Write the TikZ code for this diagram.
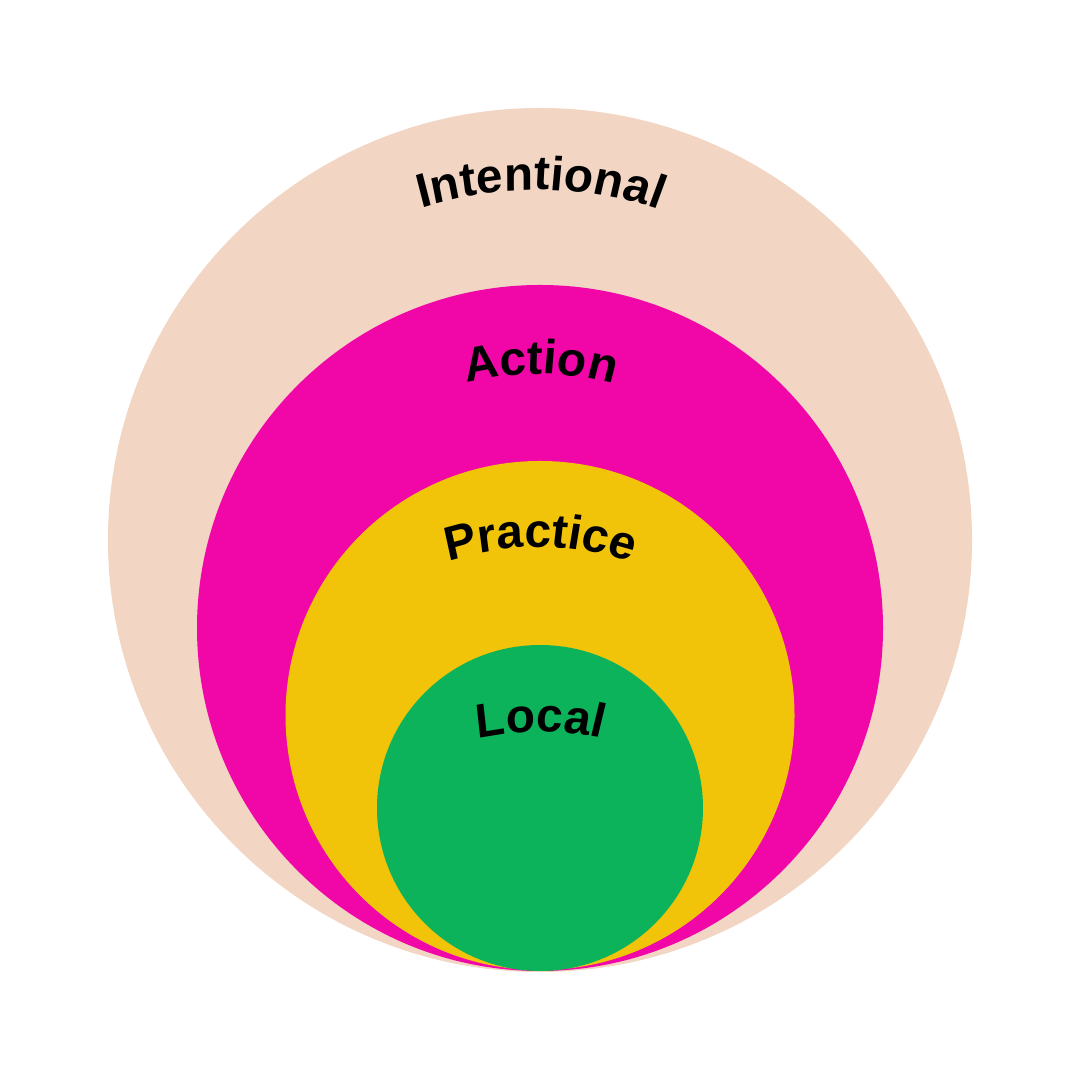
\documentclass[tikz,border=0pt]{standalone}
\usepackage{fontspec}
\setmainfont{Liberation Sans}
\newfontfamily\lblfont[FakeSlant=0.05]{Liberation Sans Bold}
\usetikzlibrary{decorations.text}
\definecolor{peach}{HTML}{F2D5C2}
\definecolor{magentab}{HTML}{F106A8}
\definecolor{yellowb}{HTML}{F1C40A}
\definecolor{greenb}{HTML}{0DB35A}
\tikzset{
  ring/.style={draw=none},
  arclabel/.style={decorate, decoration={text along path, text align=center,
     text={|\lblfont\fontsize{13.6}{14}\selectfont|#1}}}
}
\begin{document}
\begin{tikzpicture}
\useasboundingbox (0,0) rectangle (10.8,10.8);
\fill[white] (0,0) rectangle (10.8,10.8);
\node[ring, circle, fill=peach, minimum size=8.64cm, inner sep=0] (intentional) at (5.40,5.40) {};
\node[ring, circle, fill=magentab, minimum size=6.86cm, inner sep=0] (action) at (5.40,4.52) {};
\node[ring, circle, fill=yellowb, minimum size=5.09cm, inner sep=0] (practice) at (5.40,3.645) {};
\node[ring, circle, fill=greenb, minimum size=3.26cm, inner sep=0] (local) at (5.40,2.72) {};
\coordinate (cI) at (5.40,5.10);
\coordinate (cA) at (5.40,4.06);
\coordinate (cP) at (5.40,2.43);
\coordinate (cL) at (5.40,0.48);
\path[arclabel=Intentional] ([shift={(130:3.8)}]cI) arc[start angle=130, end angle=50, radius=3.8];
\path[arclabel=Action] ([shift={(130:3.0)}]cA) arc[start angle=130, end angle=50, radius=3.0];
\path[arclabel=Practice] ([shift={(130:2.9)}]cP) arc[start angle=130, end angle=50, radius=2.9];
\path[arclabel=Local] ([shift={(130:3.0)}]cL) arc[start angle=130, end angle=50, radius=3.0];
\end{tikzpicture}
\end{document}
